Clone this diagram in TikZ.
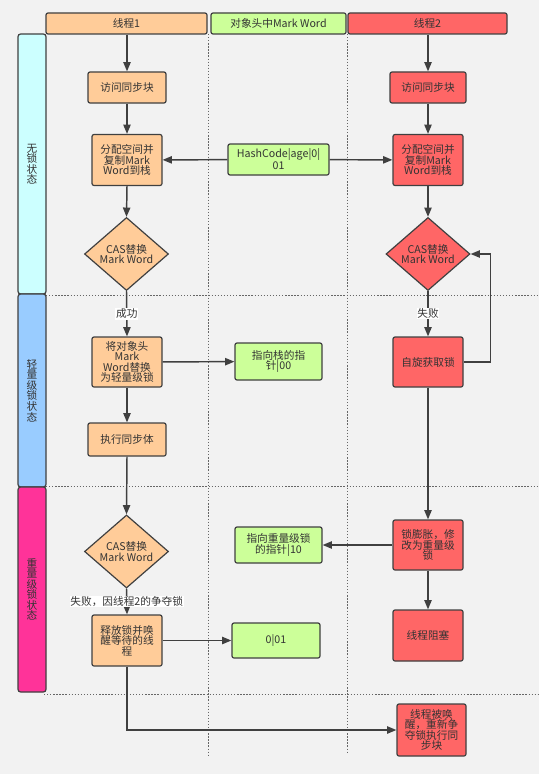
\documentclass[tikz,border=0pt]{standalone}
\usepackage{fontspec}
\setmainfont{Noto Sans CJK SC}
\usetikzlibrary{shapes.geometric,arrows.meta}
\definecolor{bg}{HTML}{F2F2F2}
\definecolor{edge}{HTML}{404040}
\definecolor{txt}{HTML}{333333}
\definecolor{orangef}{HTML}{FFCC99}
\definecolor{greenf}{HTML}{CCFF99}
\definecolor{redf}{HTML}{FF6666}
\definecolor{cyanf}{HTML}{CCFFFF}
\definecolor{bluef}{HTML}{99CCFF}
\definecolor{magf}{HTML}{FF3399}
\begin{document}
\begin{tikzpicture}[x=0.75pt,y=-0.75pt,
  box/.style={draw=edge, line width=0.9pt, rounded corners=1.5pt, fill=#1, align=center,
    inner sep=1pt, text=txt, font=\fontsize{8pt}{7.8pt}\selectfont},
  dia/.style={diamond, draw=edge, line width=0.9pt, fill=#1, align=center, inner sep=0pt,
    minimum width=63pt, minimum height=43.5pt, text=txt, font=\fontsize{8pt}{7.8pt}\selectfont},
  lane/.style={draw=edge, line width=0.9pt, rounded corners=2pt, fill=#1, align=center,
    minimum width=21pt, inner sep=0pt, text=txt, font=\fontsize{8pt}{7.9pt}\selectfont},
  sep/.style={draw=edge!80, line width=0.7pt, dash pattern=on 1pt off 1.3pt},
  arr/.style={draw=edge, line width=1.1pt, -{Triangle[length=7pt,width=5.5pt]}},
  lbl/.style={fill=white, inner sep=0.6pt, text=txt, font=\fontsize{8pt}{8pt}\selectfont}
]
\useasboundingbox (0,0) rectangle (539,774);
\fill[bg] (0,0) rectangle (539,774);

% separators
\draw[sep] (208,34) -- (208,757);
\draw[sep] (347,34) -- (347,754);
\draw[sep] (46,295) -- (539,295);
\draw[sep] (46,486.5) -- (539,486.5);
\draw[sep] (44,694) -- (539,694);

% headers
\node[box=orangef, minimum width=120.75pt, minimum height=15.75pt] (h1) at (126.5,23.5) {线程1};
\node[box=greenf, minimum width=101.25pt, minimum height=15.75pt] (hm) at (278.5,23.5) {对象头中Mark Word};
\node[box=redf, minimum width=119.25pt, minimum height=15.75pt] (h2) at (427.5,23.5) {线程2};

% lanes
\node[lane=cyanf, minimum height=195pt] (l1) at (32,164) {无\\锁\\状\\态};
\node[lane=bluef, minimum height=144.75pt] (l2) at (32,390.5) {轻\\量\\级\\锁\\状\\态};
\node[lane=magf, minimum height=153.75pt] (l3) at (32,589.5) {重\\量\\级\\锁\\状\\态};

% thread 1
\node[box=orangef, minimum width=58.5pt, minimum height=23.25pt] (a1) at (127,87.5) {访问同步块};
\node[box=orangef, minimum width=52.5pt, minimum height=38.25pt] (b1) at (127,160) {分配空间并\\复制Mark\\Word到栈};
\node[dia=orangef] (d1) at (126.5,254) {CAS替换\\Mark Word};
\node[box=orangef, minimum width=52.5pt, minimum height=37.5pt] (c1) at (127,362) {将对象头\\Mark\\Word替换\\为轻量级锁};
\node[box=orangef, minimum width=58.5pt, minimum height=24.75pt] (exe) at (127,439.5) {执行同步体};
\node[dia=orangef] (d3) at (126.5,551.5) {CAS替换\\Mark Word};
\node[box=orangef, minimum width=52.5pt, minimum height=38.25pt] (rel) at (127,640.5) {释放锁并唤\\醒等待的线\\程};

% mark word
\node[box=greenf, minimum width=75.75pt, minimum height=23.25pt] (hc) at (278.5,159.5) {HashCode|age|0|\\01};
\node[box=greenf, minimum width=65.25pt, minimum height=27.75pt] (ptr) at (278.5,361.5) {指向栈的指\\针|00};
\node[box=greenf, minimum width=65.25pt, minimum height=27pt] (hptr) at (278.5,545) {指向重量级锁\\的指针|10};
\node[box=greenf, minimum width=66pt, minimum height=26.25pt] (zero) at (276,640.5) {0|01};

% thread 2
\node[box=redf, minimum width=57pt, minimum height=23.25pt] (a2) at (428,87.5) {访问同步块};
\node[box=redf, minimum width=52.5pt, minimum height=38.25pt] (b2) at (428,160) {分配空间并\\复制Mark\\Word到栈};
\node[dia=redf] (d2) at (428,254) {CAS替换\\Mark Word};
\node[box=redf, minimum width=52.5pt, minimum height=37.5pt] (spin) at (428,362) {自旋获取锁};
\node[box=redf, minimum width=52.5pt, minimum height=37.5pt] (infl) at (428,545) {锁膨胀，修\\改为重量级\\锁};
\node[box=redf, minimum width=52.5pt, minimum height=38.25pt] (blk) at (428,635.5) {线程阻塞};
\node[box=redf, minimum width=51.75pt, minimum height=39pt] (woke) at (431.5,730) {线程被唤\\醒，重新争\\夺锁执行同\\步块};

% connectors
\draw[arr] (h1.south -| a1) -- (a1.north);
\draw[arr] (h2.south -| a2) -- (a2.north);
\draw[arr] (a1) -- (b1);
\draw[arr] (a2) -- (b2);
\draw[arr] (hc) -- (b1);
\draw[arr] (hc) -- (b2);
\draw[arr] (b1.south) -- (d1.north);
\draw[arr] (b2) -- (d2);
\draw[arr] (d1.south) -- node[lbl]{成功} (c1.north);
\draw[arr] (d2) -- node[lbl]{失败} (spin);
\draw[arr] (c1) -- (ptr);
\draw[arr] (c1) -- (exe);
\draw[arr] (exe.south) -- (d3.north);
\draw[arr] (spin.east) -- ++(27,0) |- (d2.east);
\draw[arr] (spin) -- (infl);
\draw[arr] (infl) -- (hptr);
\draw[arr] (infl) -- (blk);
\draw[arr] (d3.south) -- node[lbl]{失败，因线程2的争夺锁} (rel.north);
\draw[arr] (rel) -- (zero);
\draw[arr] (rel.south) |- (woke.west);
\end{tikzpicture}
\end{document}
